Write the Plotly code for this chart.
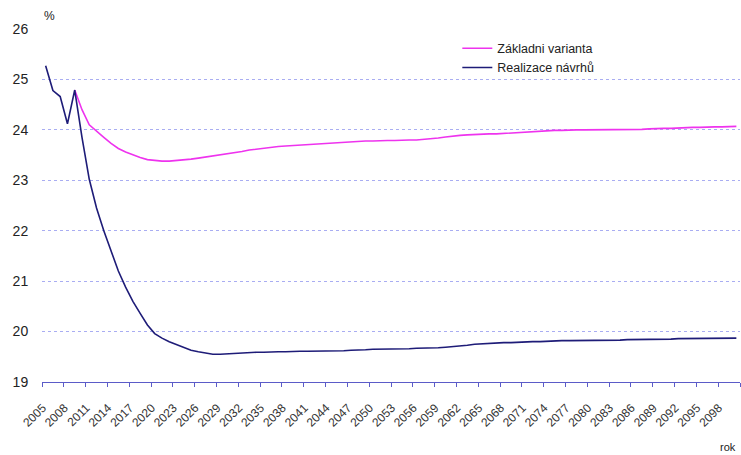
import plotly.graph_objects as go

years = list(range(2005, 2101))

realizace = [
    25.27, 24.78, 24.66, 24.12, 24.79, 23.85, 23.02, 22.45, 22.00, 21.58,
    21.20, 20.88, 20.60, 20.36, 20.13, 19.96, 19.87, 19.80, 19.74, 19.68,
    19.63, 19.60, 19.57, 19.55, 19.55, 19.56, 19.57, 19.57, 19.58, 19.59,
    19.59, 19.60, 19.60, 19.60, 19.61, 19.61, 19.61, 19.61, 19.62, 19.62,
    19.62, 19.62, 19.63, 19.63, 19.64, 19.65, 19.65, 19.65, 19.65, 19.66,
    19.66, 19.67, 19.67, 19.68, 19.68, 19.69, 19.70, 19.71, 19.73, 19.75,
    19.76, 19.77, 19.77, 19.78, 19.78, 19.79, 19.79, 19.80, 19.80, 19.81,
    19.81, 19.82, 19.82, 19.82, 19.82, 19.83, 19.83, 19.83, 19.83, 19.83,
    19.84, 19.84, 19.84, 19.85, 19.85, 19.85, 19.85, 19.86, 19.86, 19.86,
    19.87, 19.87, 19.87, 19.87, 19.87, 19.87,
]

zakladni = [None, None, None, None,
    24.79, 24.40, 24.10, 23.97, 23.85, 23.73, 23.63, 23.56, 23.50, 23.45,
    23.41, 23.39, 23.38, 23.38, 23.39, 23.40, 23.42, 23.44, 23.46, 23.48,
    23.50, 23.52, 23.55, 23.57, 23.60, 23.62, 23.64, 23.66, 23.67, 23.68,
    23.69, 23.70, 23.70, 23.71, 23.72, 23.74, 23.75, 23.76, 23.77, 23.77,
    23.78, 23.78, 23.79, 23.79, 23.79, 23.80, 23.80, 23.80, 23.81, 23.82,
    23.84, 23.86, 23.88, 23.89, 23.90, 23.91, 23.91, 23.92, 23.92, 23.93,
    23.93, 23.94, 23.95, 23.96, 23.97, 23.98, 23.99, 23.99, 24.00, 24.00,
    24.00, 24.00, 24.00, 24.00, 24.00, 24.00, 24.00, 24.00, 24.01, 24.02,
    24.03, 24.03, 24.03, 24.04, 24.05, 24.05, 24.05, 24.06, 24.06, 24.06,
    24.07, 24.07,
]

label_years = years[::3]
label_text = [str(y) for y in label_years]
boundary_ticks = [y - 0.5 for y in years[::3]] + [years[-1] + 0.5]
y_ticks = [19, 20, 21, 22, 23, 24, 25, 26]

FONT = "Liberation Sans, Arial, sans-serif"

fig = go.Figure()
fig.add_trace(go.Scatter(x=years, y=zakladni, mode="lines", name="Základni varianta",
                         line=dict(color="#ee33ee", width=1.6)))
fig.add_trace(go.Scatter(x=years, y=realizace, mode="lines", name="Realizace návrhů",
                         line=dict(color="#1e1c78", width=1.6)))
# invisible trace to activate the tick-mark axis
fig.add_trace(go.Scatter(x=[years[0]], y=[None], xaxis="x2", showlegend=False,
                         hoverinfo="skip", mode="lines"))

fig.update_layout(
    width=741, height=455,
    margin=dict(l=42, r=1, t=29, b=73),
    paper_bgcolor="white", plot_bgcolor="white",
    font=dict(family=FONT, color="#222222"),
    showlegend=True,
    legend=dict(x=0.595, y=0.987, xanchor="left", yanchor="top",
                bgcolor="rgba(0,0,0,0)", font=dict(size=12.5, color="#222222"),
                itemwidth=30, tracegroupgap=0),
    xaxis=dict(range=[2004.5, 2100.5], tickmode="array", tickvals=label_years,
               ticktext=label_text, tickangle=-45, ticks="",
               ticklabelstandoff=13, ticklabelshift=-3,
               tickfont=dict(size=12, color="#333333"),
               showgrid=False, zeroline=False,
               showline=True, linecolor="#5b5bc8", linewidth=1.2),
    xaxis2=dict(range=[2004.5, 2100.5], overlaying="x", anchor="y", side="bottom",
                tickmode="array", tickvals=boundary_ticks, ticks="outside",
                ticklen=4, tickcolor="#5b5bc8", tickwidth=1,
                showticklabels=False, showgrid=False, zeroline=False, showline=False),
    yaxis=dict(range=[19, 26], tickmode="array", tickvals=y_ticks,
               ticks="outside", ticklen=10, tickcolor="rgba(0,0,0,0)",
               tickfont=dict(size=14, color="#222222"),
               showgrid=True, gridcolor="#a9adf2", griddash="dot", gridwidth=1,
               zeroline=False, showline=False),
    annotations=[
        dict(text="%", xref="paper", yref="paper", x=0.0, y=1.0, yshift=4,
             xanchor="left", yanchor="bottom", showarrow=False,
             font=dict(size=12, color="#222222")),
        dict(text="rok", xref="paper", yref="paper", x=0.997, y=-0.185,
             xanchor="right", yanchor="middle", showarrow=False,
             font=dict(size=11, color="#222222")),
    ],
)

fig.write_html("out.html", config={"displayModeBar": False},
               post_script="document.body.style.margin='0';document.body.style.overflow='hidden';")
